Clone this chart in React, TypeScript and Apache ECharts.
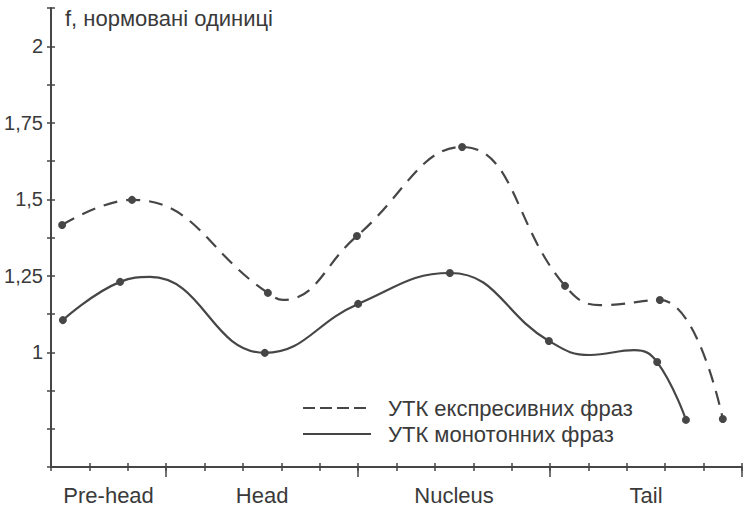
import React, { useEffect, useRef } from "react";
import * as echarts from "echarts";

const categories = ["Pre-head", "Head", "Nucleus", "Tail"];
const categoryPositions = [1.5, 5.5, 10.5, 15.5];
const majorTickPositions = [3, 8, 13, 18];
const yLabelValues = [1, 1.25, 1.5, 1.75, 2];

const seriesNames = ["УТК експресивних фраз", "УТК монотонних фраз"];
const yTitle = "f, нормовані одиниці";

// expressive phrases (dashed); marked = point drawn with a dot
const expressiveX = [0.29, 2.11, 5.65, 6.04, 7.97, 10.71, 13.39, 14.3, 15.86, 17.5];
const expressiveY = [1.416, 1.498, 1.194, 1.171, 1.38, 1.671, 1.217, 1.154, 1.171, 0.782];
const expressiveMarked = [true, true, true, false, true, true, true, false, true, true];

// monotone phrases (solid)
const monotoneX = [0.31, 1.8, 2.58, 5.57, 8.0, 10.39, 12.97, 14.04, 15.2, 15.79, 16.54];
const monotoneY = [1.105, 1.23, 1.246, 0.998, 1.158, 1.259, 1.037, 0.991, 1.007, 0.968, 0.779];
const monotoneMarked = [true, true, false, true, true, true, true, false, false, true, true];

const INK = "#464646";
const TEXT = "#3a3a3a";
const FONT = "'Liberation Sans', Arial, sans-serif";

function build(xs: number[], ys: number[], marked: boolean[]) {
  return xs.map((x, i) => ({
    value: [x, ys[i]],
    symbol: marked[i] ? "circle" : "none",
  }));
}

export default function App() {
  const ref = useRef<HTMLDivElement>(null);
  useEffect(() => {
    const chart = echarts.init(ref.current!, null, { renderer: "svg" });
    const baseX = {
      type: "value" as const,
      min: 0,
      max: 18,
      interval: 1,
      position: "bottom" as const,
      splitLine: { show: false },
    };
    const baseY = {
      type: "value" as const,
      min: 0.625,
      max: 2.125,
      interval: 0.125,
      position: "left" as const,
      splitLine: { show: false },
    };
    chart.setOption({
      animation: false,
      backgroundColor: "#ffffff",
      grid: { left: 51, right: 2, top: 8, bottom: 44, containLabel: false },
      xAxis: [
        {
          ...baseX,
          axisLine: { show: true, lineStyle: { color: INK, width: 2 } },
          axisTick: { show: true, length: 4, lineStyle: { color: INK, width: 1.5 } },
          axisLabel: {
            show: true,
            customValues: categoryPositions,
            formatter: (v: number) => {
              const i = categoryPositions.indexOf(v);
              return i >= 0 ? categories[i] : "";
            },
            margin: 17,
            color: TEXT,
            fontSize: 22,
            fontFamily: FONT,
          },
        },
        {
          ...baseX,
          axisLine: { show: false },
          axisTick: { show: true, inside: true, length: 4, lineStyle: { color: INK, width: 1.5 } },
          axisLabel: { show: false },
        },
        {
          ...baseX,
          axisLine: { show: false },
          axisTick: {
            show: true,
            customValues: majorTickPositions,
            length: 10,
            lineStyle: { color: INK, width: 1.5 },
          },
          axisLabel: { show: false },
        },
      ],
      yAxis: [
        {
          ...baseY,
          axisLine: { show: true, lineStyle: { color: INK, width: 2 } },
          axisTick: { show: true, length: 4, lineStyle: { color: INK, width: 1.5 } },
          axisLabel: {
            show: true,
            margin: 8,
            color: TEXT,
            fontSize: 20,
            fontFamily: FONT,
            formatter: (v: number) => {
              const ok = yLabelValues.some((t) => Math.abs(t - v) < 1e-6);
              return ok ? String(v).replace(".", ",") : "";
            },
          },
        },
        {
          ...baseY,
          axisLine: { show: false },
          axisTick: { show: true, inside: true, length: 4, lineStyle: { color: INK, width: 1.5 } },
          axisLabel: { show: false },
        },
      ],
      series: [
        {
          name: seriesNames[0],
          type: "line",
          xAxisIndex: 0,
          yAxisIndex: 0,
          smooth: 0.45,
          symbolSize: 8,
          itemStyle: { color: INK },
          lineStyle: { color: INK, width: 2.2, type: [14, 9] },
          data: build(expressiveX, expressiveY, expressiveMarked),
        },
        {
          name: seriesNames[1],
          type: "line",
          xAxisIndex: 0,
          yAxisIndex: 0,
          smooth: 0.45,
          symbolSize: 8,
          itemStyle: { color: INK },
          lineStyle: { color: INK, width: 2.2 },
          data: build(monotoneX, monotoneY, monotoneMarked),
        },
      ],
      graphic: [
        {
          type: "text",
          x: 65,
          y: 18,
          style: {
            text: yTitle,
            fill: TEXT,
            fontSize: 22,
            fontFamily: FONT,
            verticalAlign: "middle",
            align: "left",
          },
        },
        {
          type: "line",
          shape: { x1: 303, y1: 408, x2: 367, y2: 408 },
          style: { stroke: INK, lineWidth: 2, lineDash: [12, 5] },
        },
        {
          type: "text",
          x: 388,
          y: 408,
          style: {
            text: seriesNames[0],
            fill: TEXT,
            fontSize: 22,
            fontFamily: FONT,
            verticalAlign: "middle",
            align: "left",
          },
        },
        {
          type: "line",
          shape: { x1: 303, y1: 434, x2: 371, y2: 434 },
          style: { stroke: INK, lineWidth: 2 },
        },
        {
          type: "text",
          x: 388,
          y: 434,
          style: {
            text: seriesNames[1],
            fill: TEXT,
            fontSize: 22,
            fontFamily: FONT,
            verticalAlign: "middle",
            align: "left",
          },
        },
      ],
    });
    return () => chart.dispose();
  }, []);
  return (
    <div
      ref={ref}
      style={{ position: "fixed", left: 0, top: 0, width: 744, height: 511, background: "#fff" }}
    />
  );
}
